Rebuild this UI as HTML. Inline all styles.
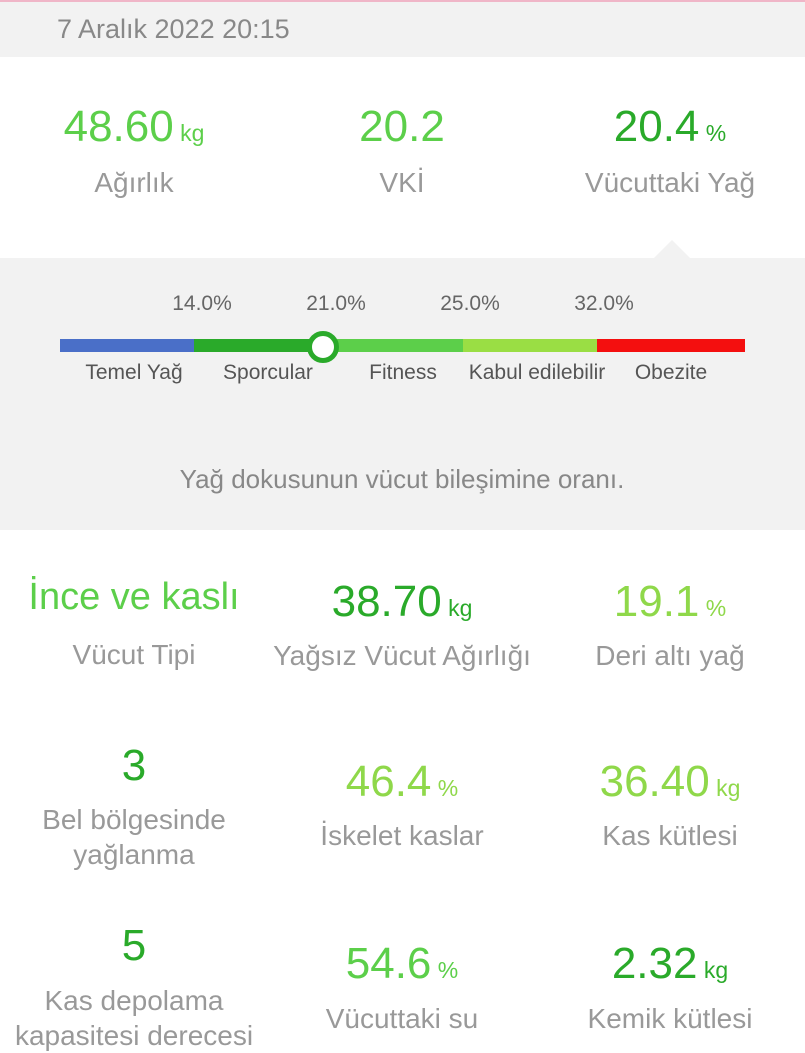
<!DOCTYPE html>
<html><head><meta charset="utf-8"><style>
body{margin:0;width:805px;height:1024px;overflow:hidden;background:#fff;font-family:"Liberation Sans",sans-serif;position:relative}
.a{position:absolute;white-space:nowrap}
.c{transform:translateX(-50%);text-align:center}
.n{font-size:44px}
.u{font-size:23px}
.l{font-size:28px;color:#999;line-height:35px}
.g1{color:#5ccf4a}.g2{color:#2aaa2a}.g3{color:#8fd84a}
.s{font-size:21px;color:#666}
</style></head><body>
<div class="a" style="left:0;top:0;width:805px;height:2px;background:#f0b6c8"></div>
<div class="a" style="left:0;top:2px;width:805px;height:55px;background:#f2f2f2"></div>
<div class="a" style="left:57px;top:14px;font-size:27px;color:#888">7 Aralık 2022 20:15</div>

<div class="a c n g1" style="left:134px;top:102px">48.60<span class="u"> kg</span></div>
<div class="a c l" style="left:134px;top:165px">Ağırlık</div>
<div class="a c n g1" style="left:402px;top:102px">20.2</div>
<div class="a c l" style="left:402px;top:165px">VKİ</div>
<div class="a c n g2" style="left:670px;top:102px">20.4<span class="u"> %</span></div>
<div class="a c l" style="left:670px;top:165px">Vücuttaki Yağ</div>

<div class="a" style="left:0;top:258px;width:805px;height:272px;background:#f2f2f2"></div>
<div class="a" style="left:654px;top:240px;width:0;height:0;border-left:18px solid transparent;border-right:18px solid transparent;border-bottom:18px solid #f2f2f2"></div>

<div class="a s c" style="left:202px;top:292px">14.0%</div>
<div class="a s c" style="left:336px;top:292px">21.0%</div>
<div class="a s c" style="left:470px;top:292px">25.0%</div>
<div class="a s c" style="left:604px;top:292px">32.0%</div>
<div class="a" style="left:60px;top:339px;width:134px;height:13px;background:#4a6fc8"></div>
<div class="a" style="left:194px;top:339px;width:134px;height:13px;background:#2aaa2a"></div>
<div class="a" style="left:328px;top:339px;width:135px;height:13px;background:#5ccf4a"></div>
<div class="a" style="left:463px;top:339px;width:134px;height:13px;background:#9ade44"></div>
<div class="a" style="left:597px;top:339px;width:148px;height:13px;background:#f40f0f"></div>
<div class="a" style="left:307px;top:331px;width:22px;height:22px;border-radius:50%;background:#fff;border:5px solid #2aaa2a"></div>
<div class="a s c" style="left:134px;top:361px;color:#555">Temel Yağ</div>
<div class="a s c" style="left:268px;top:361px;color:#555">Sporcular</div>
<div class="a s c" style="left:403px;top:361px;color:#555">Fitness</div>
<div class="a s c" style="left:537px;top:361px;color:#555">Kabul edilebilir</div>
<div class="a s c" style="left:671px;top:361px;color:#555">Obezite</div>
<div class="a c" style="left:402px;top:464px;font-size:26px;color:#888">Yağ dokusunun vücut bileşimine oranı.</div>

<div class="a c g1" style="left:134px;top:576px;font-size:38px">İnce ve kaslı</div>
<div class="a c l" style="left:134px;top:637px">Vücut Tipi</div>
<div class="a c n g2" style="left:402px;top:577px">38.70<span class="u"> kg</span></div>
<div class="a c l" style="left:402px;top:638px">Yağsız Vücut Ağırlığı</div>
<div class="a c n g3" style="left:670px;top:577px">19.1<span class="u"> %</span></div>
<div class="a c l" style="left:670px;top:638px">Deri altı yağ</div>

<div class="a c n g2" style="left:134px;top:741px">3</div>
<div class="a c l" style="left:134px;top:802px">Bel bölgesinde<br>yağlanma</div>
<div class="a c n g3" style="left:402px;top:757px">46.4<span class="u"> %</span></div>
<div class="a c l" style="left:402px;top:818px">İskelet kaslar</div>
<div class="a c n g3" style="left:670px;top:757px">36.40<span class="u"> kg</span></div>
<div class="a c l" style="left:670px;top:818px">Kas kütlesi</div>

<div class="a c n g2" style="left:134px;top:921px">5</div>
<div class="a c l" style="left:134px;top:983px">Kas depolama<br>kapasitesi derecesi</div>
<div class="a c n g1" style="left:402px;top:939px">54.6<span class="u"> %</span></div>
<div class="a c l" style="left:402px;top:1001px">Vücuttaki su</div>
<div class="a c n g2" style="left:670px;top:939px">2.32<span class="u"> kg</span></div>
<div class="a c l" style="left:670px;top:1001px">Kemik kütlesi</div>
</body></html>
